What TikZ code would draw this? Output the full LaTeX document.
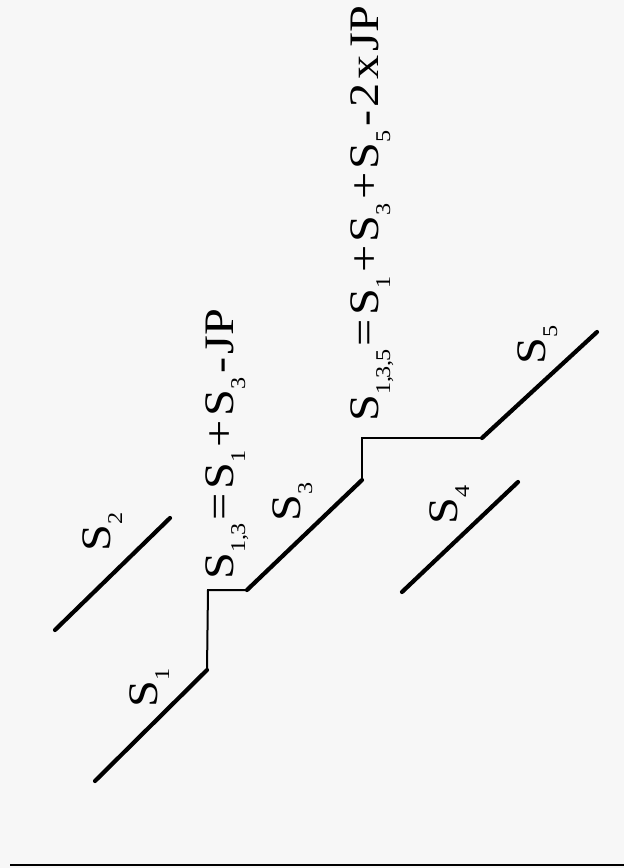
\documentclass[tikz,border=0pt]{standalone}
\usepackage{fontspec}
\setmainfont{Liberation Serif}
\newfontfamily\scanfont[FakeStretch=1.15]{Liberation Serif}
\definecolor{papel}{HTML}{F7F7F7}
\newcommand{\sbs}[1]{\raisebox{-12pt}{\fontsize{21}{23}\selectfont #1}}
\newcommand{\lblfont}{\scanfont\fontsize{42}{48}\selectfont\spaceskip 3pt\relax}

\begin{document}
\begin{tikzpicture}[x=1pt, y=-1pt,
  seg/.style={line width=4.2pt, line cap=round},
  stepline/.style={line width=2pt},
  lbl/.style={rotate=90, anchor=base west, inner sep=0pt, font=\lblfont}]

  % --- Hoja ---
  \useasboundingbox (0,0) rectangle (624,868);
  \fill[papel] (0,0) rectangle (624,868);

  % --- Puntos de los tramos ---
  \coordinate (s1a) at (95,781);
  \coordinate (s1b) at (207,670);
  \coordinate (k1)  at (208,590);
  \coordinate (s3a) at (247,590);
  \coordinate (s3b) at (362,480);
  \coordinate (k2)  at (362,438);
  \coordinate (s5a) at (482,438);
  \coordinate (s5b) at (597,332);
  \coordinate (s2a) at (55,630);
  \coordinate (s2b) at (170,518);
  \coordinate (s4a) at (402,592);
  \coordinate (s4b) at (518,482);

  % tramos
  \draw[seg] (s1a) -- (s1b);
  \draw[seg] (s2a) -- (s2b);
  \draw[seg] (s3a) -- (s3b);
  \draw[seg] (s4a) -- (s4b);
  \draw[seg] (s5a) -- (s5b);

  % escalones (JP)
  \draw[stepline] (s1b) -- (k1) -- (s3a);
  \draw[stepline] (s3b) -- (k2) -- (s5a);

  % --- Etiquetas ---
  \node[lbl] (l1) at (157,708) {S\sbs{1}};
  \node[lbl] (l2) at (110,552) {S\sbs{2}};
  \node[lbl] (l3) at (300,522) {S\sbs{3}};
  \node[lbl] (l4) at (457,525) {S\sbs{4}};
  \node[lbl] (l5) at (545,365) {S\sbs{5}};

  \node[lbl] (eq13) at (233,580)
    {\spaceskip 3.5pt\relax S\sbs{1,\kern-1pt3} = S\sbs{1} + S\sbs{3} - JP};
  \node[lbl] (eq135) at (378,422)
    {\spaceskip 3.5pt\relax S\sbs{1,\kern-1.5pt3,\kern-1.5pt5} = S\sbs{1} + S\sbs{3} + S\sbs{5} - 2 x JP};

  % --- Raya inferior ---
  \coordinate (ra) at (10,865);
  \coordinate (rb) at (624,865);
  \draw[line width=2.5pt] (ra) -- (rb);

\end{tikzpicture}
\end{document}
